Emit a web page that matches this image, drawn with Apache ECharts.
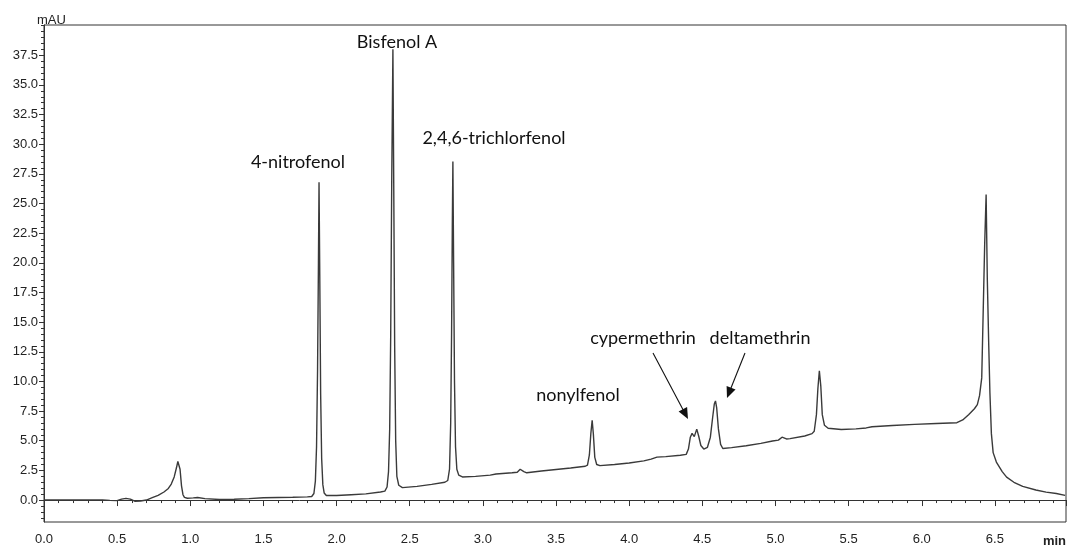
<!DOCTYPE html>
<html>
<head>
<meta charset="utf-8">
<script src="https://cdn.jsdelivr.net/npm/echarts@6/dist/echarts.min.js"></script>
<style>
  html, body { margin: 0; padding: 0; background: #fff; }
  #chart { width: 1067px; height: 546px; }
</style>
</head>
<body>
<div id="chart"></div>
<script>
// Retention time (min) of each sampled point of the chromatogram
const times = [
  0.00, 0.40, 0.45, 0.50, 0.53, 0.56, 0.59, 0.62, 0.66, 0.70, 0.74, 0.78, 0.82, 0.85, 0.87, 0.89,
  0.905, 0.915, 0.922, 0.93, 0.94, 0.95, 0.96, 0.98, 1.02, 1.05, 1.10, 1.20, 1.30, 1.40, 1.50, 1.60,
  1.70, 1.80,
  1.830, 1.845, 1.855, 1.863, 1.870, 1.876, 1.880, 1.885, 1.891, 1.898, 1.906, 1.915, 1.93,
  2.00, 2.10, 2.20, 2.30,
  2.330, 2.345, 2.355, 2.363, 2.370, 2.377, 2.385, 2.391, 2.397, 2.404, 2.412, 2.425, 2.45,
  2.55, 2.65, 2.74,
  2.760, 2.772, 2.780, 2.786, 2.791, 2.795, 2.800, 2.806, 2.813, 2.822, 2.835, 2.86,
  2.95, 3.05, 3.09, 3.20, 3.235, 3.255, 3.265, 3.28, 3.30, 3.40, 3.50, 3.60, 3.70,
  3.715, 3.728, 3.738, 3.747, 3.755, 3.765, 3.778, 3.80,
  3.90, 4.00, 4.10, 4.15, 4.19, 4.25, 4.35, 4.39,
  4.405, 4.418, 4.430, 4.445, 4.462, 4.475, 4.490, 4.510,
  4.535, 4.555, 4.570, 4.582, 4.590, 4.598, 4.610, 4.625, 4.64,
  4.70, 4.80, 4.90, 4.98, 5.02, 5.045, 5.058, 5.075, 5.10, 5.20, 5.25,
  5.265, 5.280, 5.290, 5.300, 5.310, 5.320, 5.335, 5.36,
  5.45, 5.55, 5.62, 5.66, 5.80, 5.95, 6.10, 6.24, 6.28, 6.32, 6.36, 6.38, 6.395,
  6.41, 6.42, 6.43, 6.44, 6.448, 6.458, 6.466, 6.476, 6.488, 6.51, 6.55, 6.58, 6.63,
  6.69, 6.78, 6.85, 6.92, 6.98
];

// Detector response (mAU) at each retention time above
const absorbance = [
  0.00, 0.00, -0.03, -0.05, 0.08, 0.14, 0.08, -0.10, -0.08, 0.00, 0.20, 0.40, 0.68, 0.98, 1.35, 1.95,
  2.70, 3.25, 3.30, 2.60, 1.20, 0.45, 0.22, 0.15, 0.18, 0.22, 0.12, 0.05, 0.07, 0.12, 0.20, 0.22,
  0.24, 0.27,
  0.30, 0.55, 1.6, 4.5, 11.0, 20.0, 26.8, 19.0, 9.0, 3.5, 1.3, 0.6, 0.38,
  0.38, 0.45, 0.52, 0.68,
  0.75, 1.1, 2.4, 6.0, 14.0, 27.0, 38.0, 26.0, 13.0, 5.0, 2.0, 1.25, 1.05,
  1.15, 1.32, 1.50,
  1.65, 2.6, 6.5, 14.0, 23.0, 28.55, 20.0, 10.0, 4.5, 2.6, 2.1, 1.95,
  2.00, 2.10, 2.20, 2.30, 2.35, 2.60, 2.68, 2.40, 2.30, 2.45, 2.58, 2.70, 2.85,
  2.95, 3.8, 5.6, 6.73, 5.6, 3.6, 3.0, 2.90,
  3.00, 3.12, 3.30, 3.45, 3.62, 3.66, 3.78, 3.85,
  4.3, 5.3, 5.62, 5.35, 5.98, 5.4, 4.6, 4.30,
  4.45, 5.3, 6.9, 8.1, 8.36, 7.8, 6.0, 4.7, 4.35,
  4.42, 4.58, 4.78, 4.98, 5.05, 5.30, 5.36, 5.15, 5.18, 5.40, 5.60,
  5.80, 7.2, 9.4, 10.9, 9.6, 7.2, 6.3, 6.05,
  5.95, 6.00, 6.08, 6.18, 6.28, 6.38, 6.45, 6.52, 6.75, 7.2, 7.7, 8.05, 8.8,
  10.3, 15.9, 21.5, 25.76, 18.7, 13.0, 9.0, 5.6, 4.0, 3.2, 2.4, 1.93, 1.50,
  1.15, 0.85, 0.67, 0.55, 0.39
];

// Labelled y-axis values (mAU)
const yTickValues = [0, 2.5, 5, 7.5, 10, 12.5, 15, 17.5, 20, 22.5, 25, 27.5, 30, 32.5, 35, 37.5];

// Compound names written beside their peaks
const peakNames = ['4-nitrofenol', 'Bisfenol A', '2,4,6-trichlorfenol', 'nonylfenol', 'cypermethrin', 'deltamethrin'];

const X_MAX = 6.986;
const Y_MIN = -1.85, Y_MAX = 40.05;
const yMinorValues = [];
for (let v = -1.5; v <= Y_MAX; v += 0.5) yMinorValues.push(Math.round(v * 10) / 10);

const chart = echarts.init(document.getElementById('chart'), null, { renderer: 'canvas' });

const axisColor = '#333';
const tickFont = { color: '#222', fontSize: 13, fontFamily: 'Liberation Sans, Arial, sans-serif' };
const noteFont = { fill: '#111', fontSize: 18, fontFamily: 'Lato, Noto Sans, sans-serif' };

// name label placements (centre x, centre y) in pixels
const notePos = [[298, 162], [397, 42], [494, 138], [578, 395], [643, 338], [760, 338]];
// arrows pointing at the pyrethroid peaks: [x1, y1, x2(tip), y2(tip)]
const arrows = [[653, 353, 688, 419], [745, 353, 727, 398]];

function arrowHead(x1, y1, x2, y2, len, half) {
  const dx = x2 - x1, dy = y2 - y1, d = Math.hypot(dx, dy);
  const ux = dx / d, uy = dy / d;
  const bx = x2 - ux * len, by = y2 - uy * len;
  return [[x2, y2], [bx - uy * half, by + ux * half], [bx + uy * half, by - ux * half]];
}

const graphics = [];
peakNames.forEach((name, i) => {
  graphics.push({
    type: 'text', x: notePos[i][0], y: notePos[i][1], silent: true,
    style: Object.assign({ text: name, align: 'center', verticalAlign: 'middle' }, noteFont)
  });
});
arrows.forEach(a => {
  const head = arrowHead(a[0], a[1], a[2], a[3], 11, 4.8);
  const d = Math.hypot(a[2] - a[0], a[3] - a[1]);
  const ex = a[2] - (a[2] - a[0]) / d * 8, ey = a[3] - (a[3] - a[1]) / d * 8;
  graphics.push({ type: 'line', silent: true, shape: { x1: a[0], y1: a[1], x2: ex, y2: ey }, style: { stroke: '#111', lineWidth: 1.1 } });
  graphics.push({ type: 'polygon', silent: true, shape: { points: head }, style: { fill: '#111' } });
});
graphics.push({ type: 'text', x: 37, y: 20, silent: true,
  style: { text: 'mAU', fill: '#222', fontSize: 13, fontFamily: 'Liberation Sans, Arial, sans-serif', verticalAlign: 'middle' } });
graphics.push({ type: 'text', x: 1066, y: 541, silent: true,
  style: { text: 'min', fill: '#222', fontSize: 13, fontWeight: 'bold', fontFamily: 'Liberation Sans, Arial, sans-serif', align: 'right', verticalAlign: 'middle' } });

chart.setOption({
  animation: false,
  backgroundColor: '#fff',
  grid: { left: 44, right: 1, top: 25, bottom: 21, show: true, borderColor: axisColor, borderWidth: 1, backgroundColor: 'transparent' },
  xAxis: {
    type: 'value', min: 0, max: X_MAX, interval: 0.5,
    axisLine: { show: true, lineStyle: { color: axisColor, width: 1 } },
    axisTick: { show: true, length: 6, lineStyle: { color: axisColor } },
    minorTick: { show: true, splitNumber: 5, length: 3, lineStyle: { color: axisColor } },
    splitLine: { show: false },
    axisLabel: Object.assign({ margin: 11, showMaxLabel: false, formatter: v => v.toFixed(1) }, tickFont)
  },
  yAxis: [
    {
      type: 'value', min: Y_MIN, max: Y_MAX,
      axisLine: { show: true, lineStyle: { color: axisColor, width: 1 } },
      axisTick: { show: true, length: 5, customValues: yTickValues, lineStyle: { color: axisColor } },
      splitLine: { show: false },
      axisLabel: Object.assign({ margin: 6, customValues: yTickValues, formatter: v => v.toFixed(1) }, tickFont)
    },
    {
      type: 'value', min: Y_MIN, max: Y_MAX, position: 'left',
      axisLine: { show: false },
      axisTick: { show: true, length: 3, customValues: yMinorValues, lineStyle: { color: axisColor } },
      axisLabel: { show: false, customValues: yMinorValues },
      splitLine: { show: false }
    }
  ],
  series: [{
    type: 'line',
    data: times.map((t, i) => [t, absorbance[i]]),
    showSymbol: false,
    symbol: 'none',
    smooth: false,
    lineStyle: { color: '#3a3a3a', width: 1.4 },
    clip: true
  }],
  graphic: graphics
});
</script>
</body>
</html>
